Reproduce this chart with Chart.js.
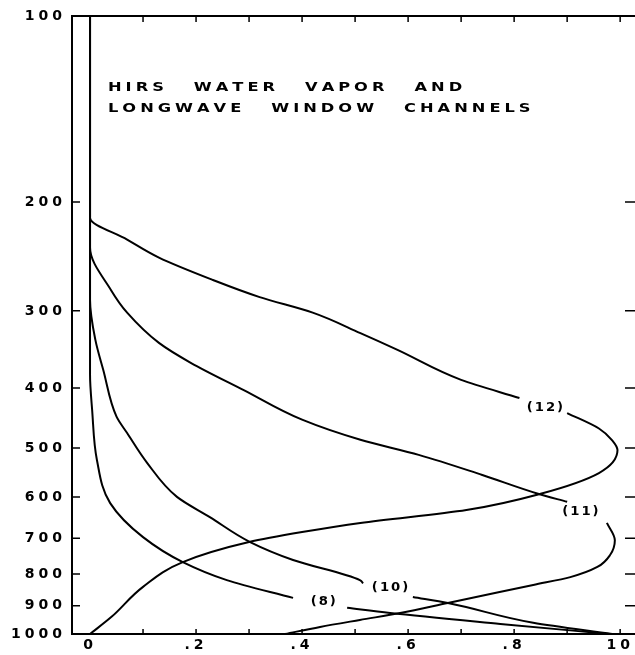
<!DOCTYPE html>
<html>
<head>
<meta charset="utf-8">
<script src="https://cdn.jsdelivr.net/npm/chart.js"></script>
<style>
  html, body { margin: 0; padding: 0; background: #fff; overflow: hidden; }
</style>
</head>
<body>
<canvas id="wfChart" width="635" height="655"></canvas>
<script>
// HIRS weighting functions (pressure in mb, normalized weight)
// null weight = gap in the curve where the channel label sits
const p12 = [100, 212, 230, 246, 267, 285, 302, 326, 347, 388, 415, 427, 439, 465, 486, 504, 549, 593, 630, 661, 684, 710, 765, 839, 939, 1000];
const w12 = [0, 0, 0.07, 0.13, 0.23, 0.32, 0.42, 0.51, 0.58, 0.70, 0.81, null, 0.90, 0.96, 0.985, 0.995, 0.96, 0.85, 0.71, 0.51, 0.40, 0.30, 0.175, 0.10, 0.04, 0];

const p11 = [100, 237, 278, 302, 338, 364, 403, 450, 485, 513, 553, 593, 611, 635, 661, 705, 745, 779, 809, 833, 891, 925, 949, 974, 1000];
const w11 = [0, 0, 0.04, 0.07, 0.13, 0.19, 0.29, 0.40, 0.51, 0.62, 0.74, 0.845, 0.90, null, 0.975, 0.99, 0.981, 0.957, 0.906, 0.836, 0.675, 0.585, 0.509, 0.434, 0.368];

const p10 = [100, 288, 334, 374, 445, 473, 529, 600, 647, 710, 759, 818, 828, 850, 871, 891, 959, 1000];
const w10 = [0, 0, 0.01, 0.025, 0.05, 0.07, 0.108, 0.164, 0.226, 0.302, 0.383, 0.509, 0.515, null, 0.609, 0.675, 0.836, 0.985];

const p8 = [100, 380, 434, 523, 614, 697, 765, 818, 874, 890, 907, 925, 963, 1000];
const w8 = [0, 0, 0.004, 0.013, 0.038, 0.10, 0.175, 0.258, 0.383, null, 0.485, 0.566, 0.774, 0.98];

const yTicks = [100, 200, 300, 400, 500, 600, 700, 800, 900, 1000];
const xTickValues = [0, 0.2, 0.4, 0.6, 0.8, 1.0];
const xTickLabels = ['0', '.2', '.4', '.6', '.8', '10'];
const xMinorTicks = [0.1, 0.2, 0.3, 0.4, 0.5, 0.6, 0.7, 0.8, 0.9, 1.0];

const channelLabels = ['(12)', '(11)', '(10)', '(8)'];
const labelW = [0.858, 0.925, 0.566, 0.44];
const labelP = [431, 635, 842, 887];

const titleLines = [
  ['HIRS', 'WATER', 'VAPOR', 'AND'],
  ['LONGWAVE', 'WINDOW', 'CHANNELS']
];

function toPoints(ws, ps) {
  return ws.map((w, i) => ({ x: w, y: w === null ? null : ps[i] }));
}

function curve(ws, ps) {
  return {
    data: toPoints(ws, ps),
    borderColor: '#000',
    borderWidth: 2,
    pointRadius: 0,
    fill: false,
    spanGaps: false,
    cubicInterpolationMode: 'monotone'
  };
}

// plotter lettering: wide glyphs, drawn one at a time with extra spacing
function spacedText(ctx, text, x, y, spacing, stretch) {
  let cx = x;
  for (const ch of text) {
    ctx.save();
    ctx.translate(cx, y);
    ctx.scale(stretch, 1);
    ctx.fillText(ch, 0, 0);
    ctx.restore();
    cx += ctx.measureText(ch).width * stretch + spacing;
  }
  return cx - spacing;
}

const framePlugin = {
  id: 'frameTicks',
  beforeDraw(chart) {
    // tick labels in the original are widely spaced
    chart.ctx.letterSpacing = '4px';
  },
  afterDraw(chart) {
    const { ctx, chartArea: a, scales: { x, y } } = chart;
    ctx.save();
    ctx.letterSpacing = '0px';
    ctx.strokeStyle = '#000';
    ctx.lineWidth = 2;
    ctx.beginPath();
    ctx.moveTo(a.left, a.top);
    ctx.lineTo(a.right, a.top);
    ctx.stroke();

    ctx.lineWidth = 1.5;
    ctx.beginPath();
    xMinorTicks.forEach(v => {
      const px = x.getPixelForValue(v);
      ctx.moveTo(px, a.top); ctx.lineTo(px, a.top + 6);
      ctx.moveTo(px, a.bottom); ctx.lineTo(px, a.bottom - 5);
    });
    yTicks.slice(1, -1).forEach(v => {
      const py = y.getPixelForValue(v);
      ctx.moveTo(a.left, py); ctx.lineTo(a.left + 8, py);
      ctx.moveTo(a.right, py); ctx.lineTo(a.right - 10, py);
    });
    ctx.stroke();

    // channel labels
    ctx.fillStyle = '#000';
    ctx.font = 'bold 12px "DejaVu Sans"';
    ctx.textBaseline = 'middle';
    ctx.textAlign = 'left';
    channelLabels.forEach((t, i) => {
      const px = x.getPixelForValue(labelW[i]);
      const py = y.getPixelForValue(labelP[i]);
      let w = 0;
      for (const ch of t) w += ctx.measureText(ch).width * 1.1 + 2;
      spacedText(ctx, t, px - (w - 2) / 2, py, 2, 1.1);
    });

    // title block inside the frame
    ctx.font = 'bold 13px "DejaVu Sans"';
    ctx.textBaseline = 'alphabetic';
    titleLines.forEach((words, li) => {
      let cx = a.left + 36;
      const cy = a.top + 75 + li * 21;
      words.forEach(wd => {
        cx = spacedText(ctx, wd, cx, cy, 4, 1.25) + 30;
      });
    });
    ctx.restore();
  }
};

const ctx = document.getElementById('wfChart').getContext('2d');
new Chart(ctx, {
  type: 'line',
  data: {
    datasets: [curve(w12, p12), curve(w11, p11), curve(w10, p10), curve(w8, p8)]
  },
  options: {
    indexAxis: 'y',
    responsive: false,
    animation: false,
    devicePixelRatio: 1,
    events: [],
    layout: { padding: { top: 16, right: 0, left: 0, bottom: 0 } },
    plugins: {
      legend: { display: false },
      tooltip: { enabled: false },
      title: { display: false }
    },
    scales: {
      x: {
        type: 'linear',
        min: -0.034,
        max: 1.028,
        grid: { display: false, drawTicks: false },
        border: { display: true, color: '#000', width: 2 },
        afterBuildTicks: s => { s.ticks = xTickValues.map(v => ({ value: v })); },
        afterFit: s => { s.height = 21; },
        ticks: {
          padding: 3,
          color: '#000',
          font: { family: 'DejaVu Sans', size: 14, weight: 'bold' },
          maxRotation: 0,
          autoSkip: false,
          callback: (v) => {
            const i = xTickValues.findIndex(t => Math.abs(t - v) < 1e-6);
            return i >= 0 ? xTickLabels[i] : '';
          }
        }
      },
      y: {
        type: 'logarithmic',
        reverse: true,
        min: 100,
        max: 1000,
        grid: { display: false, drawTicks: false },
        border: { display: true, color: '#000', width: 2 },
        afterBuildTicks: s => { s.ticks = yTicks.map(v => ({ value: v })); },
        afterFit: s => { s.width = 72; },
        ticks: {
          padding: 6,
          color: '#000',
          font: { family: 'DejaVu Sans', size: 14, weight: 'bold' },
          autoSkip: false,
          callback: (v) => String(v)
        }
      }
    }
  },
  plugins: [framePlugin]
});
</script>
</body>
</html>
